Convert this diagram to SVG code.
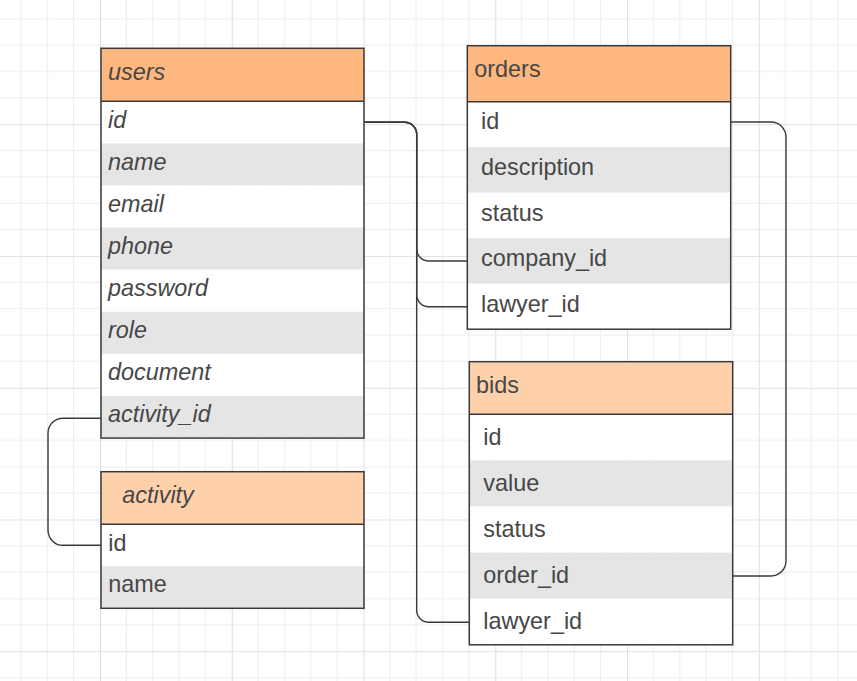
<svg xmlns="http://www.w3.org/2000/svg" width="857" height="681" viewBox="0 0 857 681">
<defs>
<pattern id="grid" x="100" y="124.2" width="131.75" height="131.75" patternUnits="userSpaceOnUse">
<g stroke="#ececec" stroke-width="1">
<line x1="26.35" y1="0" x2="26.35" y2="131.75"/><line x1="52.7" y1="0" x2="52.7" y2="131.75"/><line x1="79.05" y1="0" x2="79.05" y2="131.75"/><line x1="105.4" y1="0" x2="105.4" y2="131.75"/>
<line x1="0" y1="26.35" x2="131.75" y2="26.35"/><line x1="0" y1="52.7" x2="131.75" y2="52.7"/><line x1="0" y1="79.05" x2="131.75" y2="79.05"/><line x1="0" y1="105.4" x2="131.75" y2="105.4"/>
</g>
<g stroke="#e0e0e0" stroke-width="1.2">
<line x1="0.5" y1="0" x2="0.5" y2="131.75"/><line x1="0" y1="0.5" x2="131.75" y2="0.5"/>
</g>
</pattern>
</defs>
<style>
text{font-family:"Liberation Sans",Arial,sans-serif;font-size:23.4px;fill:#474747}
.it{font-style:italic}
.h1{fill:#ffb780}
.h2{fill:#ffd1ab}
.w{fill:#ffffff}
.g{fill:#e5e5e5}
.frame{fill:none;stroke:#3a3a3a;stroke-width:1.5}
.conn path{fill:none;stroke:#3a3a3a;stroke-width:1.4}
</style>
<rect x="0" y="0" width="857" height="681" fill="#ffffff"/>
<rect x="0" y="0" width="857" height="681" fill="url(#grid)"/>

<g id="users">
<rect class="h1" x="101" y="48.3" width="263" height="53"/>
<rect class="w" x="101" y="101.3" width="263" height="42.1"/>
<rect class="g" x="101" y="143.4" width="263" height="42.1"/>
<rect class="w" x="101" y="185.5" width="263" height="42.1"/>
<rect class="g" x="101" y="227.6" width="263" height="42.1"/>
<rect class="w" x="101" y="269.7" width="263" height="42.1"/>
<rect class="g" x="101" y="311.8" width="263" height="42.1"/>
<rect class="w" x="101" y="353.9" width="263" height="42.1"/>
<rect class="g" x="101" y="396" width="263" height="42.1"/>
<line x1="101" y1="101.3" x2="364" y2="101.3" stroke="#3a3a3a" stroke-width="1.5"/>
<rect class="frame" x="101" y="48.3" width="263" height="389.8"/>
<g class="it">
<text x="108" y="80.3">users</text>
<text x="108" y="127.5">id</text>
<text x="108" y="169.6">name</text>
<text x="108" y="211.7">email</text>
<text x="108" y="253.8">phone</text>
<text x="108" y="295.9">password</text>
<text x="108" y="338">role</text>
<text x="108" y="380.1">document</text>
<text x="108" y="422.2">activity_id</text>
</g>
</g>

<g id="activity">
<rect class="h2" x="101" y="471.7" width="263" height="52.6"/>
<rect class="w" x="101" y="524.3" width="263" height="42"/>
<rect class="g" x="101" y="566.3" width="263" height="42"/>
<line x1="101" y1="524.3" x2="364" y2="524.3" stroke="#3a3a3a" stroke-width="1.5"/>
<rect class="frame" x="101" y="471.7" width="263" height="136.6"/>
<text class="it" x="122.3" y="503.3">activity</text>
<text x="108.3" y="550.7">id</text>
<text x="108.3" y="592.3">name</text>
</g>

<g id="orders">
<rect class="h1" x="467.3" y="45.7" width="263.4" height="56"/>
<rect class="w" x="467.3" y="101.7" width="263.4" height="45.5"/>
<rect class="g" x="467.3" y="147.2" width="263.4" height="45.5"/>
<rect class="w" x="467.3" y="192.7" width="263.4" height="45.5"/>
<rect class="g" x="467.3" y="238.2" width="263.4" height="45.5"/>
<rect class="w" x="467.3" y="283.7" width="263.4" height="45.5"/>
<line x1="467.3" y1="101.7" x2="730.7" y2="101.7" stroke="#3a3a3a" stroke-width="1.5"/>
<rect class="frame" x="467.3" y="45.7" width="263.4" height="283.5"/>
<text x="474.3" y="77.3">orders</text>
<text x="481" y="129.4">id</text>
<text x="481" y="175">description</text>
<text x="481" y="220.6">status</text>
<text x="481" y="266.2">company_id</text>
<text x="481" y="311.8">lawyer_id</text>
</g>

<g id="bids">
<rect class="h2" x="469.3" y="361.7" width="263.4" height="52.6"/>
<rect class="w" x="469.3" y="414.3" width="263.4" height="46.1"/>
<rect class="g" x="469.3" y="460.4" width="263.4" height="46.1"/>
<rect class="w" x="469.3" y="506.5" width="263.4" height="46.1"/>
<rect class="g" x="469.3" y="552.6" width="263.4" height="46.1"/>
<rect class="w" x="469.3" y="598.7" width="263.4" height="46.1"/>
<line x1="469.3" y1="414.3" x2="732.7" y2="414.3" stroke="#3a3a3a" stroke-width="1.5"/>
<rect class="frame" x="469.3" y="361.7" width="263.4" height="283.1"/>
<text x="476" y="393.3">bids</text>
<text x="483.3" y="444.8">id</text>
<text x="483.3" y="490.9">value</text>
<text x="483.3" y="537">status</text>
<text x="483.3" y="583.1">order_id</text>
<text x="483.3" y="629.2">lawyer_id</text>
</g>

<g id="connectors" class="conn">
<path d="M364,122.3 H404.7 A12,12 0 0 1 416.7,134.3 V249 A12,12 0 0 0 428.7,261 H467.3"/>
<path d="M364,122.3 H404.7 A12,12 0 0 1 416.7,134.3 V294.7 A12,12 0 0 0 428.7,306.7 H467.3"/>
<path d="M364,122.3 H404.7 A12,12 0 0 1 416.7,134.3 V610.3 A12,12 0 0 0 428.7,622.3 H469.3"/>
<path d="M101,418.2 H63 A15,15 0 0 0 48,433.2 V530.3 A15,15 0 0 0 63,545.3 H101"/>
<path d="M730.7,122 H771 A15,15 0 0 1 786,137 V561 A15,15 0 0 1 771,576 H732.7"/>
</g>
</svg>
